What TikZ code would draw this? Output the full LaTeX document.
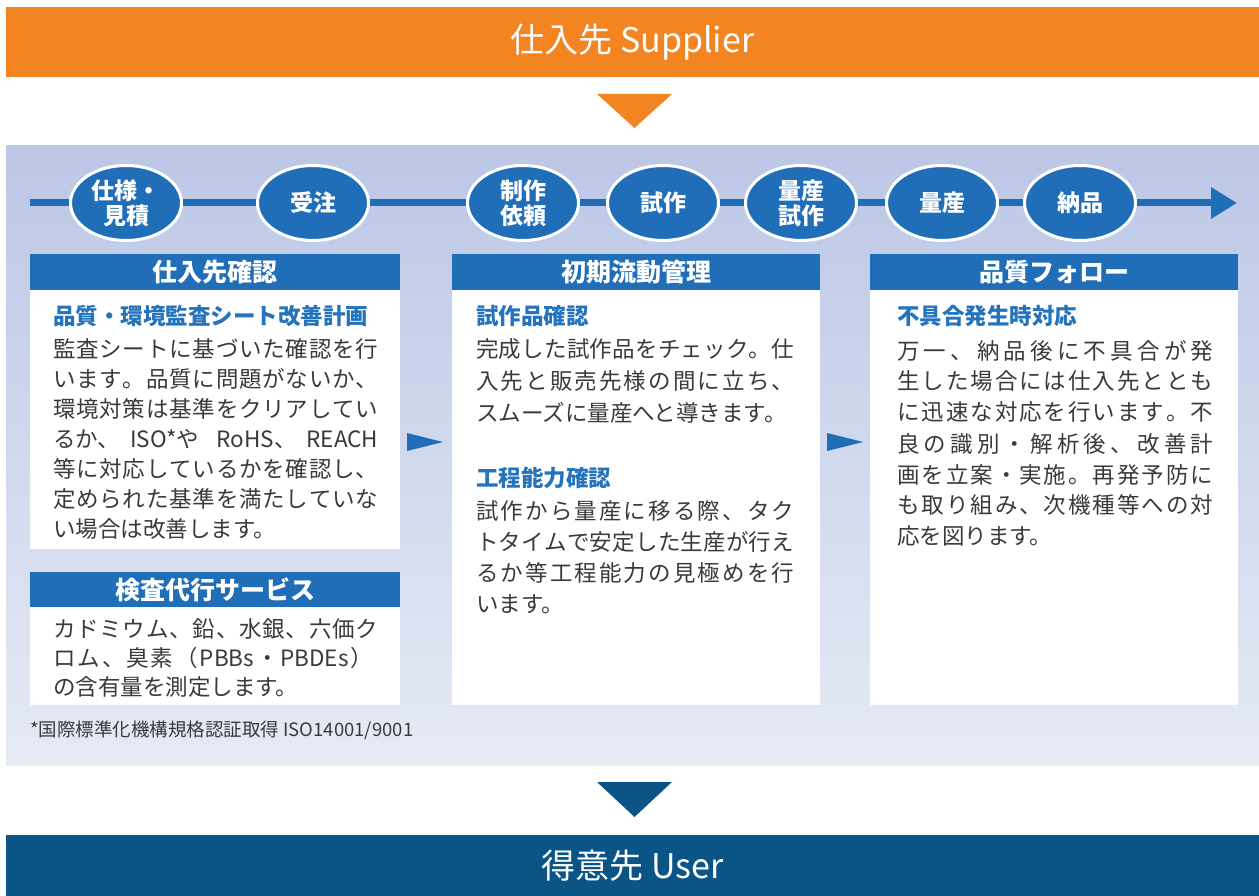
\documentclass[tikz,border=0pt]{standalone}
\usepackage{fontspec}
\setmainfont{Noto Sans CJK JP}
\usetikzlibrary{arrows.meta,shapes.geometric,positioning}
\definecolor{suporange}{HTML}{F28522}
\definecolor{userblue}{HTML}{0A5586}
\definecolor{stepblue}{HTML}{1F6EB7}
\definecolor{headblue}{HTML}{2473BC}
\definecolor{paneltop}{HTML}{BBC7E6}
\definecolor{panelbot}{HTML}{E6EAF5}
\definecolor{bodygray}{HTML}{3A3A3A}
\ExplSyntaxOn
\NewDocumentCommand \spreadline { m m }
  { \mode_leave_vertical: \hbox_to_wd:nn {#1} { \tl_map_inline:nn {#2} { ##1 \hfil } \unskip } }
\ExplSyntaxOff

\begin{document}
\begin{tikzpicture}[x=1pt,y=-1pt,
  stepnode/.style={ellipse,fill=stepblue,draw=white,line width=3pt,minimum width=111pt,minimum height=75pt,
    inner sep=0pt,text=white,align=center,font=\bfseries\fontsize{23}{25}\selectfont},
  headbar/.style={fill=stepblue,text=white,minimum width=370pt,minimum height=36pt,inner sep=0pt,
    anchor=north west,font=\bfseries\fontsize{25}{25}\selectfont},
  cardbox/.style={fill=white,minimum width=370pt,inner sep=0pt,anchor=north west},
  subhead/.style={text=headblue,anchor=base west,inner sep=0pt,font=\bfseries\fontsize{22.5}{30}\selectfont},
  bodytext/.style={text=bodygray,anchor=base west,inner sep=0pt,text width=340pt,align=left,
    font=\fontsize{22.5}{#1}\selectfont},
  timeline/.style={stepblue,line width=7pt},
  band/.style={minimum width=1253pt,inner sep=0pt,text=white,font=\fontsize{34}{34}\selectfont}]
\useasboundingbox (0,0) rectangle (1259,896);
% supplier / user bands
\node[band,fill=suporange,minimum height=70pt] (supplier) at (632.5,42.5) {仕入先 Supplier};
\fill[suporange] (597,94) -- (672,94) -- (634.5,128) -- cycle;
\shade[top color=paneltop,bottom color=panelbot] (6,146) rectangle (1259,765);
\fill[userblue] (597,782) -- (672,782) -- (634.5,817) -- cycle;
\node[band,fill=userblue,minimum height=61pt] (user) at (632.5,865.5) {得意先 User};
% timeline
\coordinate (tlstart) at (30,203);
\coordinate (tlend) at (1237,203);
\foreach \x/\n/\t in {126/s1/{仕様・\\見積},313/s2/受注,523/s3/{制作\\依頼},663/s4/試作,
  801/s5/{量産\\試作},942/s6/量産,1080/s7/納品}
  \node[stepnode] (\n) at (\x,203) {\t};
\draw[timeline] (tlstart) -- (s1) -- (s2) -- (s3) -- (s4) -- (s5) -- (s6) -- (s7);
\draw[timeline,-{Triangle[length=26pt,width=30pt]}] (s7) -- (tlend);
% cards
\node[cardbox,minimum height=259pt] (card1) at (30,290) {};
\node[cardbox,minimum height=98pt] (card2) at (30,607) {};
\node[cardbox,minimum width=368pt,minimum height=415pt] (card3) at (452,290) {};
\node[cardbox,minimum width=368pt,minimum height=415pt] (card4) at (870,290) {};
\node[headbar] (head1) at (30,254) {仕入先確認};
\node[headbar,minimum height=35pt] (head2) at (30,572) {検査代行サービス};
\node[headbar,minimum width=368pt] (head3) at (452,254) {初期流動管理};
\node[headbar,minimum width=368pt] (head4) at (870,254) {品質フォロー};
\fill[stepblue] (407,433) -- (443,442) -- (407,451) -- cycle;
\fill[stepblue] (827,433) -- (863,442) -- (827,451) -- cycle;
% texts
\node[subhead] (sub1) at (53,324) {品質・環境監査シート改善計画};
\node[bodytext=30] (body1) at (53,357) {%
  \spreadline{325pt}{監査シートに基づいた確認を行}\\
  \spreadline{325pt}{います。品質に問題がないか、}\\
  \spreadline{325pt}{環境対策は基準をクリアしてい}\\
  \spreadline{325pt}{{るか、}{ISO*や}{ RoHS、}{REACH}}\\
  \spreadline{325pt}{等に対応しているかを確認し、}\\
  \spreadline{325pt}{定められた基準を満たしていな}\\
  い場合は改善します。};
\node[bodytext=29] (body2) at (53,637) {%
  \spreadline{325pt}{カドミウム、鉛、水銀、六価ク}\\
  \spreadline{320pt}{ロム、臭素（{PBBs}・{PBDEs}）}\\
  の含有量を測定します。};
\node[subhead] (sub3) at (476,324) {試作品確認};
\node[bodytext=32] (body3) at (476,357) {%
  \spreadline{318pt}{完成した試作品をチェック。仕}\\
  \spreadline{318pt}{入先と販売先様の間に立ち、}\\
  スムーズに量産へと導きます。};
\node[subhead] (sub4) at (476,486) {工程能力確認};
\node[bodytext=31] (body4) at (476,519) {%
  \spreadline{318pt}{試作から量産に移る際、タク}\\
  \spreadline{318pt}{トタイムで安定した生産が行え}\\
  \spreadline{318pt}{るか等工程能力の見極めを行}\\
  います。};
\node[subhead] (sub5) at (897,324) {不具合発生時対応};
\node[bodytext=31] (body5) at (897,359) {%
  \spreadline{316pt}{万一、納品後に不具合が発}\\
  \spreadline{316pt}{生した場合には仕入先ととも}\\
  \spreadline{316pt}{に迅速な対応を行います。不}\\
  \spreadline{316pt}{良の識別・解析後、改善計}\\
  \spreadline{316pt}{画を立案・実施。再発予防に}\\
  \spreadline{316pt}{も取り組み、次機種等への対}\\
  応を図ります。};
\node[anchor=base west,inner sep=0pt,text=bodygray,font=\fontsize{18.5}{18.5}\selectfont] (note)
  at (30,736) {*国際標準化機構規格認証取得 ISO14001/9001};
\end{tikzpicture}
\end{document}
